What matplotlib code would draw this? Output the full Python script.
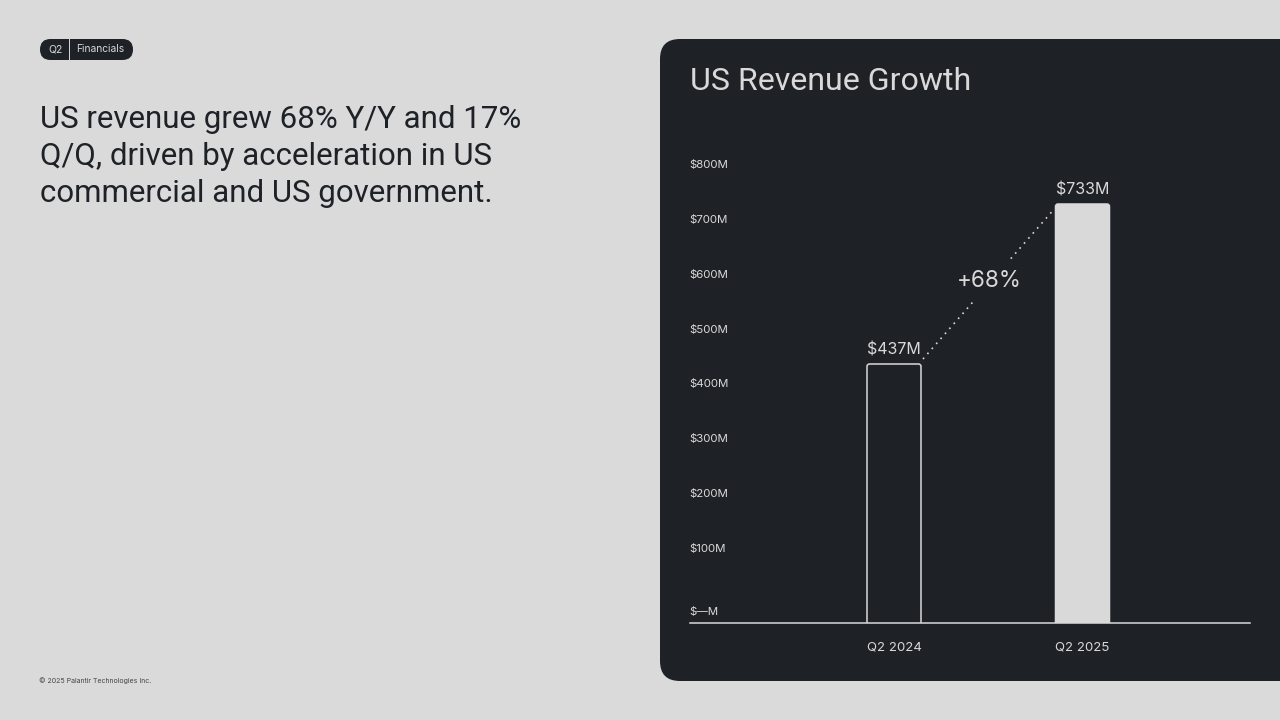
import matplotlib
matplotlib.use("Agg")
import matplotlib.pyplot as plt
from matplotlib.patches import FancyBboxPatch

plt.rcParams['font.family'] = ['Inter', 'DejaVu Sans']

BG = '#dadada'
DARK = '#1e2126'
LIGHT = '#d9d9d9'
DISPLAY = ['Roboto', 'DejaVu Sans']

categories = ['Q2 2024', 'Q2 2025']
values = [437, 733]
value_labels = ['$437M', '$733M']
ytick_values = [100, 200, 300, 400, 500, 600, 700, 800]
ytick_labels = ['$100M', '$200M', '$300M', '$400M', '$500M', '$600M', '$700M', '$800M']
zero_label = '$—M'
growth_label = '+68%'
headline = ['US revenue grew 68% Y/Y and 17%',
            'Q/Q, driven by acceleration in US',
            'commercial and US government.']

W, H = 1280, 720
fig = plt.figure(figsize=(W / 100, H / 100), dpi=100, facecolor=BG)

def px(size):
    return size * 0.72

# page layer in pixel coordinates
page = fig.add_axes([0, 0, 1, 1])
page.set_xlim(0, W)
page.set_ylim(H, 0)
page.axis('off')

page.add_patch(FancyBboxPatch((660, 39), 700, 642, boxstyle='round,pad=0,rounding_size=20',
                              fc=DARK, ec='none'))
page.add_patch(FancyBboxPatch((40, 39), 93, 21, boxstyle='round,pad=0,rounding_size=10.5',
                              fc=DARK, ec='none'))
page.plot([69.2, 69.2], [39, 60], color=LIGHT, lw=0.7)
page.text(55.5, 49.5, 'Q2', color=LIGHT, fontsize=px(10.5), ha='center', va='center')
page.text(100, 49.5, 'Financials', color=LIGHT, fontsize=px(10.2), ha='center', va='center')

for t, y in zip(headline, [119, 156.5, 193.5]):
    page.text(40, y, t, color=DARK, fontsize=px(31.3), ha='left', va='center', family=DISPLAY)

page.text(39, 680.5, '© 2025 Palantir Technologies Inc.', color='#44474c', fontsize=px(7),
          ha='left', va='center')
page.text(690, 81.5, 'US Revenue Growth', color=LIGHT, fontsize=px(32.2), ha='left', va='center',
          family=DISPLAY)
page.text(689.5, 611.5, zero_label, color=LIGHT, fontsize=px(11.5), ha='left', va='center')

# chart layer
x0, x1, y_top, y_base = 689.5, 1250, 130, 623
ax = fig.add_axes([x0 / W, 1 - y_base / H, (x1 - x0) / W, (y_base - y_top) / H])
ax.patch.set_alpha(0)

unit_x = 188.5
ax.set_xlim((x0 - 894) / unit_x, (x1 - 894) / unit_x)
unit_y = 160 / (values[1] - values[0])
base_value = values[0] - (y_base - 364) / unit_y
top_value = base_value + (y_base - y_top) / unit_y
ax.set_ylim(base_value, top_value)

bar_w = 54 / unit_x
rx = 2.5 / unit_x
aspect = unit_x / unit_y
for i, v in enumerate(values):
    bottom = base_value - 20
    ax.add_patch(FancyBboxPatch((i - bar_w / 2, bottom), bar_w, v - bottom,
                                boxstyle=f'round,pad=0,rounding_size={rx}',
                                mutation_aspect=aspect,
                                fc=LIGHT if i == 1 else DARK, ec=LIGHT, lw=1.1, zorder=3))
    ax.annotate(value_labels[i], (i, v), xytext=(0, 13.5 * 0.72), textcoords='offset points',
                ha='center', va='center', color=LIGHT, fontsize=px(16), zorder=5)

# dotted connector between the two bars, broken by the growth label
ax.plot([0 + bar_w / 2 + 2 / unit_x, 1 - bar_w / 2 - 3 / unit_x],
        [values[0] + 5 / unit_y, values[1] - 7 / unit_y],
        color=LIGHT, lw=1.2, ls=(0, (1, 3)), zorder=2)
ax.text(0.505, (values[0] + values[1]) / 2 + 5, growth_label, color=LIGHT,
        fontsize=px(22.5), ha='center', va='center', zorder=4,
        bbox=dict(fc=DARK, ec='none', boxstyle='square,pad=0.4'))

ax.set_xticks(range(len(categories)), categories)
ax.tick_params(axis='x', length=0, pad=13, labelcolor=LIGHT, labelsize=px(13.2))
ax.set_yticks([])
for s in ['top', 'left', 'right']:
    ax.spines[s].set_visible(False)
ax.spines['bottom'].set_color(LIGHT)
ax.spines['bottom'].set_linewidth(1.1)
ax.spines['bottom'].set_zorder(6)

# y labels sit on their own evenly spaced scale, slightly different from the bars
yax = ax.twinx()
yax.patch.set_alpha(0)
unit_lab = (548 - 164) / (ytick_values[-1] - ytick_values[0])
yax.set_ylim(100 - (y_base - 548) / unit_lab, 100 + (548 - y_top) / unit_lab)
yax.yaxis.tick_left()
yax.set_yticks(ytick_values, ytick_labels)
yax.tick_params(axis='y', length=0, direction='in', pad=0, labelcolor=LIGHT, labelsize=px(11.5))
for lab in yax.get_yticklabels():
    lab.set_ha('left')
    lab.set_x(0)
for s in yax.spines.values():
    s.set_visible(False)

fig.savefig('out.png', dpi=100, facecolor=BG)
